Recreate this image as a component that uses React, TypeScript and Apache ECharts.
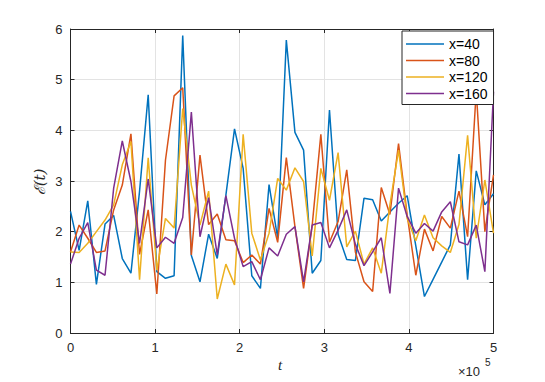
import React, { useEffect, useRef } from "react";
import * as echarts from "echarts";

const seriesNames = ["x=40", "x=80", "x=120", "x=160"];
const colors = ["#0072BD", "#D95319", "#EDB120", "#7E2F8E"];
const xTicks = [0, 1, 2, 3, 4, 5];
const yTicks = [0, 1, 2, 3, 4, 5, 6];

const x40 = [2.40, 1.63, 2.61, 0.96, 2.15, 2.32, 1.47, 1.18, 2.80, 4.70, 1.21, 1.08, 1.13, 5.87, 1.53, 1.01, 1.95, 1.47, 2.72, 4.03, 3.25, 1.13, 0.88, 2.93, 1.87, 5.78, 3.96, 3.61, 1.18, 1.43, 4.40, 1.95, 1.45, 1.43, 2.66, 2.63, 2.21, 2.39, 2.56, 2.71, 1.72, 0.72, 1.06, 1.40, 1.74, 3.53, 1.05, 3.20, 2.53, 2.75];
const x80 = [1.60, 2.13, 1.87, 1.59, 1.62, 2.43, 2.92, 3.93, 1.55, 2.43, 0.77, 3.41, 4.68, 4.84, 1.54, 3.51, 2.14, 2.35, 1.84, 1.82, 1.39, 1.54, 1.36, 2.46, 1.79, 3.46, 2.10, 0.88, 2.13, 3.92, 1.79, 2.20, 3.22, 1.60, 1.01, 0.82, 2.87, 2.34, 3.74, 2.33, 1.14, 2.05, 1.62, 2.30, 2.07, 2.80, 1.90, 4.78, 2.00, 3.12];
const x120 = [1.60, 1.59, 1.77, 2.00, 2.23, 2.53, 3.32, 3.78, 1.05, 3.46, 1.24, 2.26, 2.07, 4.43, 2.92, 2.13, 2.80, 0.67, 1.36, 0.95, 3.92, 1.97, 1.44, 1.97, 3.05, 2.82, 3.26, 2.99, 1.52, 3.25, 2.62, 3.56, 1.70, 2.01, 1.36, 1.68, 1.18, 2.53, 3.61, 2.26, 1.82, 2.33, 1.88, 1.72, 1.59, 2.14, 3.90, 1.87, 3.02, 1.97];
const x160 = [1.36, 1.87, 2.18, 1.24, 1.14, 2.86, 3.79, 2.99, 1.77, 3.04, 1.68, 1.89, 1.77, 2.28, 4.36, 1.90, 2.67, 1.54, 2.71, 1.87, 1.31, 1.41, 1.05, 1.68, 1.52, 1.95, 2.10, 1.01, 2.13, 2.18, 1.68, 2.03, 2.43, 1.75, 1.33, 1.60, 1.88, 0.78, 2.86, 2.30, 1.97, 2.16, 2.01, 2.39, 2.59, 1.80, 1.74, 2.13, 1.21, 4.76];

const tMax = 500000;
const nPts = 50;
const tValues = Array.from({ length: nPts }, (_, i) => (i * tMax) / (nPts - 1));
const allSeries = [x40, x80, x120, x160];

export default function App() {
  const ref = useRef<HTMLDivElement>(null);
  useEffect(() => {
    document.body.style.margin = "0";
    const chart = echarts.init(ref.current!, null, { renderer: "svg" });
    const axisColor = "#262626";
    const font = "Liberation Sans, Arial, Helvetica, sans-serif";
    chart.setOption({
      animation: false,
      backgroundColor: "#ffffff",
      grid: { left: 70.5, top: 29, width: 423, height: 304, containLabel: false },
      legend: {
        orient: "vertical",
        left: 402,
        top: 31,
        padding: [6, 6, 4, 4],
        icon: "rect",
        itemWidth: 38,
        itemHeight: 1.5,
        itemGap: 2.5,
        backgroundColor: "#ffffff",
        borderColor: axisColor,
        borderWidth: 1,
        textStyle: { fontFamily: font, fontSize: 14, lineHeight: 14, color: "#000" },
        data: seriesNames,
      },
      xAxis: [
        {
          type: "value",
          min: 0,
          max: tMax,
          interval: 100000,
          position: "bottom",
          axisLine: { show: true, lineStyle: { color: axisColor, width: 1 } },
          axisTick: { show: true, inside: true, length: 4, lineStyle: { color: axisColor } },
          axisLabel: {
            color: axisColor,
            fontFamily: font,
            fontSize: 13,
            margin: 8,
            formatter: (v: number) => String(xTicks[Math.round(v / 100000)]),
          },
          splitLine: { show: true, lineStyle: { color: "#e3e3e3", width: 1 } },
        },
        {
          type: "value",
          min: 0,
          max: tMax,
          interval: 100000,
          position: "top",
          axisLine: { show: true, onZero: false, lineStyle: { color: axisColor, width: 1 } },
          axisTick: { show: true, inside: true, length: 4, lineStyle: { color: axisColor } },
          axisLabel: { show: false },
          splitLine: { show: false },
        },
      ],
      yAxis: [
        {
          type: "value",
          min: 0,
          max: 6,
          interval: 1,
          position: "left",
          axisLine: { show: true, lineStyle: { color: axisColor, width: 1 } },
          axisTick: { show: true, inside: true, length: 4, lineStyle: { color: axisColor } },
          axisLabel: {
            color: axisColor,
            fontFamily: font,
            fontSize: 13,
            margin: 8,
            formatter: (v: number) => String(yTicks[Math.round(v)]),
          },
          splitLine: { show: true, lineStyle: { color: "#e3e3e3", width: 1 } },
        },
        {
          type: "value",
          min: 0,
          max: 6,
          interval: 1,
          position: "right",
          axisLine: { show: true, onZero: false, lineStyle: { color: axisColor, width: 1 } },
          axisTick: { show: true, inside: true, length: 4, lineStyle: { color: axisColor } },
          axisLabel: { show: false },
          splitLine: { show: false },
        },
      ],
      series: allSeries.map((vals, k) => ({
        name: seriesNames[k],
        type: "line",
        xAxisIndex: 0,
        yAxisIndex: 0,
        symbol: "none",
        showSymbol: false,
        color: colors[k],
        lineStyle: { color: colors[k], width: 1.5 },
        data: vals.map((v, i) => [tValues[i], v]),
      })),
      graphic: [
        {
          type: "text",
          left: 278,
          top: 357,
          style: {
            text: "t",
            font: "italic 15px 'Liberation Serif', 'DejaVu Serif', serif",
            fill: axisColor,
          },
        },
        {
          type: "text",
          left: 458,
          top: 365,
          style: {
            text: "×10",
            font: "13px 'Liberation Sans', Arial, sans-serif",
            fill: axisColor,
          },
        },
        {
          type: "text",
          left: 485,
          top: 357,
          style: {
            text: "5",
            font: "10px 'Liberation Sans', Arial, sans-serif",
            fill: axisColor,
          },
        },
        {
          type: "text",
          x: 40,
          y: 182,
          rotation: Math.PI / 2,
          style: {
            text: "ℰ(t)",
            font: "italic 15px 'DejaVu Serif', 'Liberation Serif', serif",
            fill: axisColor,
            align: "center",
            verticalAlign: "middle",
          },
        },
      ],
    });
    return () => chart.dispose();
  }, []);
  return <div ref={ref} style={{ width: 545, height: 382 }} />;
}
